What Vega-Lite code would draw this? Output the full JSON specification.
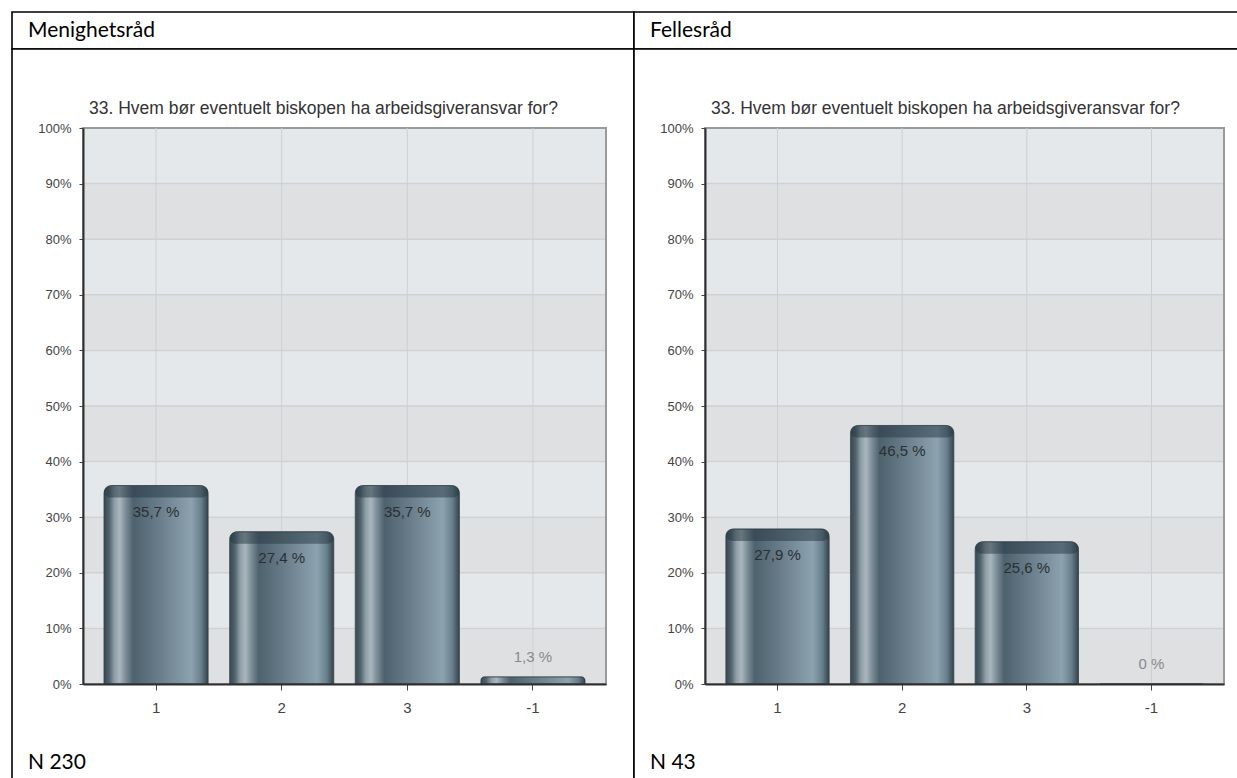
{
  "$schema": "https://vega.github.io/schema/vega-lite/v6.json",
  "padding": {"left": 11, "top": 11, "right": 0, "bottom": 0},
  "bounds": "flush",
  "spacing": 0,
  "columns": 2,
  "background": "white",
  "config": {"view": {"stroke": null}, "font": "Liberation Sans"},
  "datasets": {
    "panels": [
      {"panel": "Menighetsråd", "n": 230},
      {"panel": "Fellesråd", "n": 43}
    ],
    "answers": [
      {"panel": "Menighetsråd", "alt": "1", "pct": 35.7},
      {"panel": "Menighetsråd", "alt": "2", "pct": 27.4},
      {"panel": "Menighetsråd", "alt": "3", "pct": 35.7},
      {"panel": "Menighetsråd", "alt": "-1", "pct": 1.3},
      {"panel": "Fellesråd", "alt": "1", "pct": 27.9},
      {"panel": "Fellesråd", "alt": "2", "pct": 46.5},
      {"panel": "Fellesråd", "alt": "3", "pct": 25.6},
      {"panel": "Fellesråd", "alt": "-1", "pct": 0}
    ],
    "bands": [
      {"lo": 0, "hi": 10}, {"lo": 10, "hi": 20}, {"lo": 20, "hi": 30}, {"lo": 30, "hi": 40}, {"lo": 40, "hi": 50},
      {"lo": 50, "hi": 60}, {"lo": 60, "hi": 70}, {"lo": 70, "hi": 80}, {"lo": 80, "hi": 90}, {"lo": 90, "hi": 100}
    ]
  },
  "concat": [
    {
      "width": 622, "height": 37,
      "view": {"stroke": "#000", "strokeWidth": 1.6, "fill": "white"},
      "data": {"name": "panels"},
      "transform": [{"filter": "datum.panel === 'Menighetsråd'"}],
      "mark": {"type": "text", "align": "left", "baseline": "middle", "dx": 16, "font": "Lato", "fontSize": 21, "color": "#000"},
      "encoding": {
        "x": {"datum": 0, "type": "quantitative", "scale": {"domain": [0, 1]}, "axis": null},
        "y": {"datum": 0.5, "type": "quantitative", "scale": {"domain": [0, 1]}, "axis": null},
        "text": {"field": "panel"}
      }
    },
    {
      "width": 604, "height": 37,
      "view": {"stroke": "#000", "strokeWidth": 1.6, "fill": "white"},
      "data": {"name": "panels"},
      "transform": [{"filter": "datum.panel === 'Fellesråd'"}],
      "mark": {"type": "text", "align": "left", "baseline": "middle", "dx": 16, "font": "Lato", "fontSize": 21, "color": "#000"},
      "encoding": {
        "x": {"datum": 0, "type": "quantitative", "scale": {"domain": [0, 1]}, "axis": null},
        "y": {"datum": 0.5, "type": "quantitative", "scale": {"domain": [0, 1]}, "axis": null},
        "text": {"field": "panel"}
      }
    },
    {
      "width": 622, "height": 730,
      "view": {"stroke": "#000", "strokeWidth": 1.6, "fill": "white"},
      "resolve": {"scale": {"x": "independent"}, "axis": {"x": "independent"}},
      "layer": [
        {
          "layer": [
            {
              "data": {"name": "bands"},
              "mark": {"type": "rect"},
              "encoding": {
                "x": {"datum": 0, "type": "quantitative", "scale": {"domain": [0, 1], "range": [71, 594]}, "axis": null},
                "x2": {"datum": 1},
                "y": {"field": "lo", "type": "quantitative", "scale": {"domain": [0, 100], "range": [635, 79], "nice": false, "zero": false},
                  "axis": {"title": null, "orient": "left", "zindex": 1, "values": [0, 10, 20, 30, 40, 50, 60, 70, 80, 90, 100], "labelExpr": "datum.value + '%'", "domainColor": "#2e2e2e", "domainWidth": 2, "tickColor": "#444", "tickSize": 4, "labelFont": "Liberation Sans", "labelFontSize": 13, "labelColor": "#444", "labelPadding": 8, "offset": -71, "grid": false}},
                "y2": {"field": "hi"},
                "color": {"condition": {"test": "datum.lo % 20 === 0", "value": "#dfe0e2"}, "value": "#e5e8eb"}
              }
            },
            {
              "data": {"name": "bands"},
              "transform": [{"filter": "datum.lo > 0"}],
              "mark": {"type": "rule", "color": "#d0d1d4", "strokeWidth": 1.5},
              "encoding": {
                "x": {"datum": 0, "type": "quantitative"},
                "x2": {"datum": 1},
                "y": {"field": "lo", "type": "quantitative"}
              }
            },
            {
              "data": {"name": "bands"},
              "transform": [{"filter": "datum.lo === 0"}],
              "mark": {"type": "rect", "fill": null, "fillOpacity": 0, "stroke": "#9a9a9a", "strokeWidth": 2},
              "encoding": {
                "x": {"datum": 0, "type": "quantitative"},
                "x2": {"datum": 1},
                "y": {"datum": 0, "type": "quantitative"},
                "y2": {"datum": 100}
              }
            },
            {
              "data": {"name": "panels"},
              "transform": [{"filter": "datum.panel === 'Menighetsråd'"}, {"calculate": "'N ' + datum.n", "as": "nlabel"}],
              "layer": [
                {
                  "mark": {"type": "text", "text": "33. Hvem bør eventuelt biskopen ha arbeidsgiveransvar for?", "align": "left", "baseline": "middle", "dx": 6, "fontSize": 17.5, "color": "#333"},
                  "encoding": {
                    "x": {"datum": 0, "type": "quantitative"},
                    "y": {"datum": 103.4, "type": "quantitative"}
                  }
                },
                {
                  "mark": {"type": "text", "align": "left", "baseline": "middle", "dx": -55, "font": "Lato", "fontSize": 21, "color": "#000"},
                  "encoding": {
                    "x": {"datum": 0, "type": "quantitative"},
                    "y": {"datum": -14.2, "type": "quantitative"},
                    "text": {"field": "nlabel"}
                  }
                }
              ]
            }
          ]
        },
        {
          "data": {"name": "answers"},
          "transform": [
            {"filter": "datum.panel === 'Menighetsråd'"},
            {"calculate": "replace(format(datum.pct, '.1~f'), '.', ',') + ' %'", "as": "label"}
          ],
          "encoding": {
            "x": {"field": "alt", "type": "nominal", "sort": null,
              "scale": {"range": [71, 594], "paddingInner": 0.171, "paddingOuter": 0.167},
              "axis": {"title": null, "orient": "bottom", "labelAngle": 0, "zindex": 1, "domainColor": "#2e2e2e", "domainWidth": 2, "tickColor": "#444", "tickSize": 6, "tickWidth": 1, "labelFont": "Liberation Sans", "labelFontSize": 15, "labelColor": "#444", "labelPadding": 10, "offset": -95, "grid": false}}
          },
          "layer": [
            {
              "mark": {"type": "rule", "color": "#cdd0d3", "strokeWidth": 1},
              "encoding": {"y": {"datum": 0, "type": "quantitative"}, "y2": {"datum": 100}}
            },
            {
              "mark": {"type": "bar", "cornerRadiusTopLeft": 8, "cornerRadiusTopRight": 8, "stroke": "#34434b", "strokeWidth": 0.8,
                "fill": {"gradient": "linear", "x1": 0, "y1": 0, "x2": 1, "y2": 0, "stops": [
                  {"offset": 0, "color": "#38484f"},
                  {"offset": 0.05, "color": "#50626c"},
                  {"offset": 0.1, "color": "#8e9ea7"},
                  {"offset": 0.15, "color": "#aab6bd"},
                  {"offset": 0.21, "color": "#7a8c96"},
                  {"offset": 0.28, "color": "#4e626e"},
                  {"offset": 0.55, "color": "#6b808c"},
                  {"offset": 0.84, "color": "#8ca2ae"},
                  {"offset": 0.93, "color": "#6a818d"},
                  {"offset": 1, "color": "#34434b"}
                ]}},
              "encoding": {"y": {"field": "pct", "type": "quantitative"}}
            },
            {
              "transform": [{"filter": "datum.pct > 5"}],
              "mark": {"type": "bar", "width": {"band": 0.885}, "yOffset": 6, "y2Offset": 6, "fill": null, "stroke": "#243640", "strokeOpacity": 0.5, "strokeWidth": 12, "strokeJoin": "round"},
              "encoding": {"y": {"field": "pct", "type": "quantitative"}, "y2": {"field": "pct"}}
            },
            {
              "transform": [{"filter": "datum.pct > 5"}],
              "mark": {"type": "text", "dy": 26, "baseline": "middle", "fontSize": 15, "color": "#2b2f33"},
              "encoding": {"y": {"field": "pct", "type": "quantitative"}, "text": {"field": "label"}}
            },
            {
              "transform": [{"filter": "datum.pct <= 5"}],
              "mark": {"type": "text", "dy": -20, "baseline": "middle", "fontSize": 15, "color": "#8a8a8a"},
              "encoding": {"y": {"field": "pct", "type": "quantitative"}, "text": {"field": "label"}}
            }
          ]
        }
      ]
    },
    {
      "width": 604, "height": 730,
      "view": {"stroke": "#000", "strokeWidth": 1.6, "fill": "white"},
      "resolve": {"scale": {"x": "independent"}, "axis": {"x": "independent"}},
      "layer": [
        {
          "layer": [
            {
              "data": {"name": "bands"},
              "mark": {"type": "rect"},
              "encoding": {
                "x": {"datum": 0, "type": "quantitative", "scale": {"domain": [0, 1], "range": [71, 590]}, "axis": null},
                "x2": {"datum": 1},
                "y": {"field": "lo", "type": "quantitative", "scale": {"domain": [0, 100], "range": [635, 79], "nice": false, "zero": false},
                  "axis": {"title": null, "orient": "left", "zindex": 1, "values": [0, 10, 20, 30, 40, 50, 60, 70, 80, 90, 100], "labelExpr": "datum.value + '%'", "domainColor": "#2e2e2e", "domainWidth": 2, "tickColor": "#444", "tickSize": 4, "labelFont": "Liberation Sans", "labelFontSize": 13, "labelColor": "#444", "labelPadding": 8, "offset": -71, "grid": false}},
                "y2": {"field": "hi"},
                "color": {"condition": {"test": "datum.lo % 20 === 0", "value": "#dfe0e2"}, "value": "#e5e8eb"}
              }
            },
            {
              "data": {"name": "bands"},
              "transform": [{"filter": "datum.lo > 0"}],
              "mark": {"type": "rule", "color": "#d0d1d4", "strokeWidth": 1.5},
              "encoding": {
                "x": {"datum": 0, "type": "quantitative"},
                "x2": {"datum": 1},
                "y": {"field": "lo", "type": "quantitative"}
              }
            },
            {
              "data": {"name": "bands"},
              "transform": [{"filter": "datum.lo === 0"}],
              "mark": {"type": "rect", "fill": null, "fillOpacity": 0, "stroke": "#9a9a9a", "strokeWidth": 2},
              "encoding": {
                "x": {"datum": 0, "type": "quantitative"},
                "x2": {"datum": 1},
                "y": {"datum": 0, "type": "quantitative"},
                "y2": {"datum": 100}
              }
            },
            {
              "data": {"name": "panels"},
              "transform": [{"filter": "datum.panel === 'Fellesråd'"}, {"calculate": "'N ' + datum.n", "as": "nlabel"}],
              "layer": [
                {
                  "mark": {"type": "text", "text": "33. Hvem bør eventuelt biskopen ha arbeidsgiveransvar for?", "align": "left", "baseline": "middle", "dx": 6, "fontSize": 17.5, "color": "#333"},
                  "encoding": {
                    "x": {"datum": 0, "type": "quantitative"},
                    "y": {"datum": 103.4, "type": "quantitative"}
                  }
                },
                {
                  "mark": {"type": "text", "align": "left", "baseline": "middle", "dx": -55, "font": "Lato", "fontSize": 21, "color": "#000"},
                  "encoding": {
                    "x": {"datum": 0, "type": "quantitative"},
                    "y": {"datum": -14.2, "type": "quantitative"},
                    "text": {"field": "nlabel"}
                  }
                }
              ]
            }
          ]
        },
        {
          "data": {"name": "answers"},
          "transform": [
            {"filter": "datum.panel === 'Fellesråd'"},
            {"calculate": "replace(format(datum.pct, '.1~f'), '.', ',') + ' %'", "as": "label"}
          ],
          "encoding": {
            "x": {"field": "alt", "type": "nominal", "sort": null,
              "scale": {"range": [71, 590], "paddingInner": 0.171, "paddingOuter": 0.167},
              "axis": {"title": null, "orient": "bottom", "labelAngle": 0, "zindex": 1, "domainColor": "#2e2e2e", "domainWidth": 2, "tickColor": "#444", "tickSize": 6, "tickWidth": 1, "labelFont": "Liberation Sans", "labelFontSize": 15, "labelColor": "#444", "labelPadding": 10, "offset": -95, "grid": false}}
          },
          "layer": [
            {
              "mark": {"type": "rule", "color": "#cdd0d3", "strokeWidth": 1},
              "encoding": {"y": {"datum": 0, "type": "quantitative"}, "y2": {"datum": 100}}
            },
            {
              "mark": {"type": "bar", "cornerRadiusTopLeft": 8, "cornerRadiusTopRight": 8, "stroke": "#34434b", "strokeWidth": 0.8,
                "fill": {"gradient": "linear", "x1": 0, "y1": 0, "x2": 1, "y2": 0, "stops": [
                  {"offset": 0, "color": "#38484f"},
                  {"offset": 0.05, "color": "#50626c"},
                  {"offset": 0.1, "color": "#8e9ea7"},
                  {"offset": 0.15, "color": "#aab6bd"},
                  {"offset": 0.21, "color": "#7a8c96"},
                  {"offset": 0.28, "color": "#4e626e"},
                  {"offset": 0.55, "color": "#6b808c"},
                  {"offset": 0.84, "color": "#8ca2ae"},
                  {"offset": 0.93, "color": "#6a818d"},
                  {"offset": 1, "color": "#34434b"}
                ]}},
              "encoding": {"y": {"field": "pct", "type": "quantitative"}}
            },
            {
              "transform": [{"filter": "datum.pct > 5"}],
              "mark": {"type": "bar", "width": {"band": 0.885}, "yOffset": 6, "y2Offset": 6, "fill": null, "stroke": "#243640", "strokeOpacity": 0.5, "strokeWidth": 12, "strokeJoin": "round"},
              "encoding": {"y": {"field": "pct", "type": "quantitative"}, "y2": {"field": "pct"}}
            },
            {
              "transform": [{"filter": "datum.pct > 5"}],
              "mark": {"type": "text", "dy": 26, "baseline": "middle", "fontSize": 15, "color": "#2b2f33"},
              "encoding": {"y": {"field": "pct", "type": "quantitative"}, "text": {"field": "label"}}
            },
            {
              "transform": [{"filter": "datum.pct <= 5"}],
              "mark": {"type": "text", "dy": -20, "baseline": "middle", "fontSize": 15, "color": "#8a8a8a"},
              "encoding": {"y": {"field": "pct", "type": "quantitative"}, "text": {"field": "label"}}
            }
          ]
        }
      ]
    }
  ]
}
